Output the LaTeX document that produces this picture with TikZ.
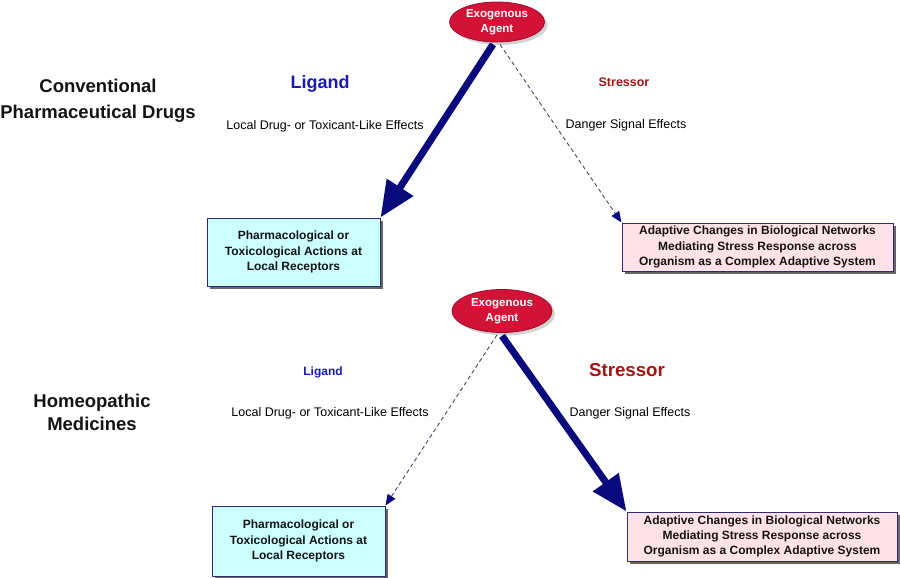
\documentclass[tikz,border=0pt]{standalone}
\usepackage{fontspec}
\setmainfont{Liberation Sans}
\usetikzlibrary{arrows.meta,shadows,shapes.geometric}
\definecolor{agentred}{RGB}{210,18,55}
\definecolor{agentedge}{RGB}{160,10,40}
\definecolor{cyanbox}{RGB}{204,255,255}
\definecolor{pinkbox}{RGB}{255,226,232}
\definecolor{boxedge}{RGB}{50,40,120}
\definecolor{arrownavy}{RGB}{10,10,125}
\definecolor{dashgray}{RGB}{70,70,110}
\definecolor{ligblue}{RGB}{25,25,180}
\definecolor{strred}{RGB}{160,20,20}
\definecolor{titleblack}{RGB}{20,20,20}
\tikzset{
  agent/.style={ellipse, fill=agentred, draw=agentedge, line width=0.8pt, text=white,
    font=\bfseries\fontsize{11.5}{15}\selectfont, align=center,
    minimum width=95pt, minimum height=40pt, inner sep=0pt,
    drop shadow={shadow xshift=3pt, shadow yshift=-3pt, fill=gray!70}},
  recbox/.style={rectangle, draw=boxedge, line width=1pt, align=center,
    font=\bfseries\fontsize{12}{15.3}\selectfont, text=titleblack, inner sep=0pt,
    drop shadow={shadow xshift=3pt, shadow yshift=-3pt, fill=gray!80!black, opacity=1}},
  thickarrow/.style={draw=arrownavy, line width=7pt,
    -{Triangle[length=36pt, width=30pt, fill=arrownavy]}},
  dasharrow/.style={draw=dashgray, line width=0.9pt, dash pattern=on 4pt off 3pt,
    -{Triangle[length=11pt, width=9pt, fill=arrownavy, color=arrownavy]}},
  sidetitle/.style={font=\bfseries\fontsize{18.5}{26}\selectfont, text=titleblack, align=center},
  effect/.style={font=\fontsize{12.5}{14}\selectfont, text=black}
}
\begin{document}
\begin{tikzpicture}[x=1pt,y=-1pt]
\useasboundingbox[fill=white] (0,0) rectangle (900,578);

% ---- top panel ----
\node[agent] (e1) at (497,22) {Exogenous\\Agent};
\node[sidetitle] (t1) at (98,101) {Conventional\\Pharmaceutical Drugs};
\node[font=\bfseries\fontsize{18}{20}\selectfont, text=ligblue] (lig1) at (320,84) {Ligand};
\node[font=\bfseries\fontsize{12.5}{13}\selectfont, text=strred] (str1) at (624,82) {Stressor};
\node[effect] (le1) at (325,126) {Local Drug- or Toxicant-Like Effects};
\node[effect] (de1) at (626,125) {Danger Signal Effects};
\node[recbox, fill=cyanbox, minimum width=173pt, minimum height=68pt] (b1) at (293.5,252)
  {Pharmacological or\\Toxicological Actions at\\Local Receptors};
\node[recbox, fill=pinkbox, minimum width=271pt, minimum height=48pt] (c1) at (757.5,247)
  {Adaptive Changes in Biological Networks\\Mediating Stress Response across\\Organism as a Complex Adaptive System};
\draw[thickarrow] ([xshift=-4pt,yshift=-2pt]e1.south) -- (b1.north east);
\draw[dasharrow] ([xshift=3pt,yshift=-2pt]e1.south) -- (c1.north west);

% ---- bottom panel ----
\node[agent, minimum width=100pt, minimum height=43pt] (e2) at (502,311) {Exogenous\\Agent};
\node[sidetitle, font=\bfseries\fontsize{18.5}{23}\selectfont] (t2) at (92,412) {Homeopathic\\Medicines};
\node[font=\bfseries\fontsize{12}{14}\selectfont, text=ligblue] (lig2) at (323,372) {Ligand};
\node[font=\bfseries\fontsize{18.7}{20}\selectfont, text=strred] (str2) at (627,370) {Stressor};
\node[effect] (le2) at (330,413) {Local Drug- or Toxicant-Like Effects};
\node[effect] (de2) at (630,413) {Danger Signal Effects};
\node[recbox, fill=cyanbox, minimum width=173pt, minimum height=70pt] (b2) at (298.5,541)
  {Pharmacological or\\Toxicological Actions at\\Local Receptors};
\node[recbox, fill=pinkbox, minimum width=270pt, minimum height=49pt] (c2) at (762,536.5)
  {Adaptive Changes in Biological Networks\\Mediating Stress Response across\\Organism as a Complex Adaptive System};
\draw[dasharrow] ([xshift=-5pt,yshift=-2pt]e2.south) -- (b2.north east);
\draw[thickarrow] ([yshift=-3pt]e2.south) -- (c2.north west);
\end{tikzpicture}
\end{document}
